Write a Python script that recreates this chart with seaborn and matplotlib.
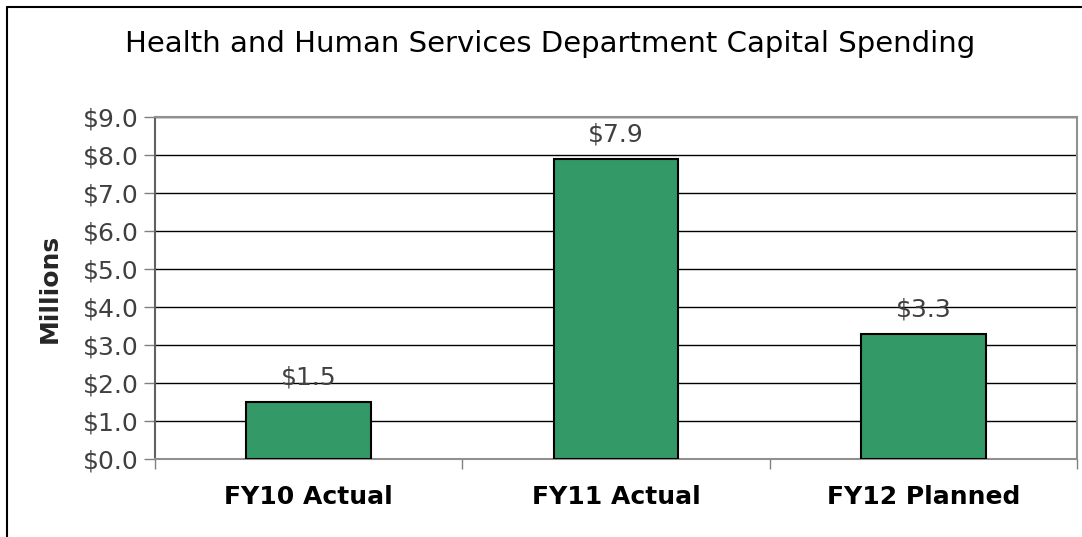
import matplotlib
matplotlib.use("Agg")
import matplotlib.pyplot as plt
from matplotlib.lines import Line2D
import seaborn as sns
import pandas as pd

# ==== Data ===================================================================
categories = ["FY10 Actual", "FY11 Actual", "FY12 Planned"]
spending = [1.5, 7.9, 3.3]
y_ticks = [0, 1, 2, 3, 4, 5, 6, 7, 8, 9]

df = pd.DataFrame({"category": categories, "spending": spending})

# ==== Settings ===============================================================
sns.set_style("white")
plt.rcParams["font.family"] = ["DejaVu Sans"]

# ==== Figure =================================================================
fig = plt.figure(figsize=(10.82, 5.37), dpi=100)
ax = fig.add_axes([0.1433, 0.1453, 0.8521, 0.6368])

sns.barplot(data=df, x="category", y="spending", color="#339966",
            saturation=1, width=0.405, edgecolor="black", linewidth=1.5,
            ax=ax, zorder=3)

# ==== Axis ===================================================================
ax.set_ylim(0, 9)
ax.set_xlim(-0.5, 2.5)
ax.set_yticks(y_ticks)
ax.set_yticklabels(["${:.1f}".format(v) for v in y_ticks])
ax.yaxis.grid(True, color="black", linewidth=1.0, zorder=0)
ax.set_axisbelow(True)

ax.set_xticks([-0.5, 0.5, 1.5, 2.5], minor=False)
ax.set_xticklabels([])
ax.set_xticks([0, 1, 2], minor=True)
ax.set_xticklabels(categories, minor=True)
ax.tick_params(axis="x", which="minor", length=0, pad=19, labelsize=18,
               labelcolor="black")
ax.tick_params(axis="x", which="major", direction="out", length=7,
               width=1, color="#808080", bottom=True)
ax.tick_params(axis="y", direction="out", length=8, width=1,
               color="#808080", left=True, labelsize=18,
               labelcolor="#404040", pad=4)
for lab in ax.get_xticklabels(minor=True):
    lab.set_fontweight("semibold")

for side in ["top", "right", "bottom"]:
    ax.spines[side].set_color("#909090")
    ax.spines[side].set_linewidth(1.5)
ax.spines["left"].set_color("#606060")
ax.spines["left"].set_linewidth(1.5)

# ==== Labels =================================================================
ax.bar_label(ax.containers[0], labels=["${:.1f}".format(v) for v in spending],
             padding=9, fontsize=18, color="#404040")
ax.set_xlabel("")
ax.set_ylabel("Millions", fontsize=18, fontweight="bold", labelpad=15)
fig.text(0.508, 0.918, "Health and Human Services Department Capital Spending",
         ha="center", va="center", fontsize=21, color="black")

# ==== Figure border ==========================================================
fig.add_artist(Line2D([0.0065, 0.0065], [0, 0.987], color="black",
                      linewidth=1.5, transform=fig.transFigure))
fig.add_artist(Line2D([0.0065, 1.0], [0.987, 0.987], color="black",
                      linewidth=1.5, transform=fig.transFigure))

fig.savefig("out.png", dpi=100)
